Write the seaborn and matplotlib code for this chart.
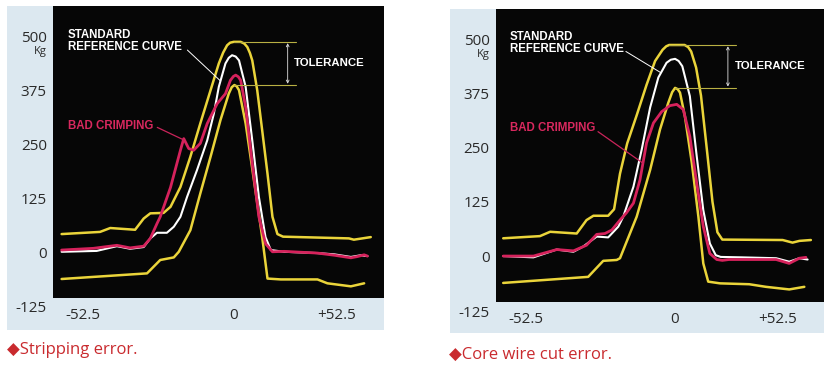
import matplotlib

matplotlib.use("Agg")
import matplotlib.pyplot as plt
import numpy as np
import pandas as pd
import seaborn as sns
from matplotlib.patches import Rectangle

# x = position across the trace window (0-100), y = crimp force in kg

# stripping error panel
STRIP_UPPER_X = [2.6, 14.2, 17.3, 24.8, 27.4, 29.4, 33.4, 35.5, 38.5, 41.5, 44.5, 47.6, 50.1, 51.4, 52.6,
                 53.5, 54.6, 56.7, 57.8, 58.7, 59.5, 60.2, 61.7, 63.2, 64.8, 66.3, 67.8, 69.5, 89.4,
                 90.9, 96.0]
STRIP_UPPER_Y = [42, 47, 56, 52, 78, 90, 91, 105, 151, 221, 298, 375, 437, 462, 479,
                 485, 487, 487, 483, 475, 461, 444, 375, 282, 182, 82, 42, 36, 32,
                 29, 35]
STRIP_LOWER_X = [2.6, 28.4, 32.4, 36.5, 38.0, 41.5, 44.5, 47.6, 50.6, 53.1, 54.0, 54.8, 55.5, 56.2,
                 58.2, 60.7, 63.2, 64.8, 68.8, 79.9, 82.9, 90.0, 94.0]
STRIP_LOWER_Y = [-62, -49, -18, -12, 1, 51, 136, 221, 306, 367, 382, 387, 384, 375,
                 298, 167, 35, -61, -63, -63, -72, -79, -72]
STRIP_REF_X = [2.6, 13.2, 19.3, 23.3, 27.4, 29.4, 31.4, 34.4, 36.5, 38.5, 40.5, 43.5, 46.6, 48.6, 50.1,
               52.1, 53.1, 54.1, 55.2, 56.2, 58.2, 60.2, 62.2, 64.2, 65.8, 69.8, 79.9, 85.0, 90.0,
               93.0, 95.0]
STRIP_REF_Y = [1, 3, 14, 8, 12, 32, 45, 45, 59, 82, 128, 190, 259, 321, 383,
               437, 450, 456, 453, 444, 383, 259, 128, 35, 5, 1, -2, -5, -11,
               -7, -9]
STRIP_BAD_X = [2.6, 12.2, 19.3, 23.3, 27.4, 29.4, 31.4, 32.4, 35.5, 38.5, 39.5, 41.0, 42.5, 44.5, 46.6,
               49.6, 52.1, 53.6, 54.5, 55.2, 56.0, 56.7, 58.2, 60.2, 62.2, 64.2, 66.3, 69.8, 79.9,
               85.0, 90.0, 92.0, 94.0, 95.0]
STRIP_BAD_Y = [5, 9, 16, 10, 14, 32, 66, 82, 150, 236, 263, 240, 236, 252, 298,
               344, 367, 398, 407, 410, 406, 398, 336, 205, 82, 20, 1, 2, -2,
               -7, -13, -10, -6, -9]

# core wire cut error panel
CUT_UPPER_X = [2.2, 13.4, 16.5, 24.6, 27.6, 29.7, 34.2, 36.0, 37.8, 40.0, 42.9, 45.9, 48.5, 50.8, 51.9,
               52.8, 57.5, 58.6, 59.5, 61.0, 62.5, 64.3, 66.0, 67.5, 69.0, 87.4, 90.4, 92.5, 96.0]
CUT_UPPER_Y = [41, 46, 56, 52, 83, 93, 93, 108, 190, 260, 325, 395, 450, 476, 484,
               487, 487, 482, 472, 435, 370, 245, 125, 55, 38, 37, 31, 35, 37]
CUT_LOWER_X = [2.2, 28.1, 32.7, 36.8, 37.8, 42.9, 47.0, 50.0, 52.5, 53.7, 54.6, 55.4, 56.1, 57.6,
               59.7, 61.7, 63.2, 64.7, 68.3, 77.2, 82.3, 89.4, 94.0]
CUT_LOWER_Y = [-62, -48, -11, -9, -5, 91, 199, 292, 353, 378, 388, 385, 377, 322,
               215, 91, -17, -59, -63, -65, -71, -77, -71]
CUT_REF_X = [2.2, 11.4, 18.5, 23.6, 26.6, 30.7, 34.2, 37.3, 38.8, 41.9, 44.4, 47.0, 49.5, 52.0, 53.3,
             54.6, 55.7, 56.8, 59.1, 61.2, 63.2, 65.2, 67.0, 68.5, 75.0, 85.4, 89.4, 92.5, 95.0]
CUT_REF_Y = [0, -3, 15, 10, 22, 45, 43, 68, 91, 160, 245, 343, 412, 446, 453,
             455, 450, 438, 369, 230, 106, 29, 2, -2, -3, -5, -13, -5, -8]
CUT_BAD_X = [2.2, 11.4, 18.5, 23.6, 27.6, 30.7, 33.2, 35.3, 37.8, 39.8, 41.9, 43.9, 45.9, 48.0, 50.5,
             53.0, 55.1, 57.1, 59.1, 61.2, 63.2, 65.2, 67.3, 69.0, 71.0, 85.4, 89.4, 92.5, 94.5]
CUT_BAD_Y = [0, 0, 15, 12, 25, 50, 52, 60, 83, 100, 122, 176, 261, 307, 333,
             347, 350, 338, 276, 168, 68, 6, -8, -10, -8, -8, -17, -5, -3]

X_TICK_LABELS = ["-52.5", "0", "+52.5"]
Y_TICKS = [500, 375, 250, 125, 0, -125]
CAPTIONS = ["\u25c6Stripping error.", "\u25c6Core wire cut error."]

CURVE_ORDER = ["upper", "lower", "reference", "bad"]
CURVE_COLORS = {"upper": "#ead43a", "lower": "#ead43a", "reference": "#ffffff", "bad": "#d6225c"}
CURVE_WIDTHS = {"upper": 1.8, "lower": 1.8, "reference": 1.5, "bad": 2.0}

BLUE = "#dce8f0"
W, H = 832, 366

sns.set_theme(style="dark")
plt.rcParams["font.family"] = ["Open Sans", "DejaVu Sans"]
LABEL_FONT = ["Liberation Sans", "DejaVu Sans"]


def curve_frame(upper_x, upper_y, lower_x, lower_y, ref_x, ref_y, bad_x, bad_y):
    parts = [
        ("upper", upper_x, upper_y),
        ("lower", lower_x, lower_y),
        ("reference", ref_x, ref_y),
        ("bad", bad_x, bad_y),
    ]
    return pd.concat(
        [pd.DataFrame({"x": xs, "kg": ys, "curve": name}) for name, xs, ys in parts],
        ignore_index=True,
    )


def px_rect(left, top, right, bottom):
    # pixel box -> figure fraction [x, y, w, h]
    return [left / W, 1 - bottom / H, (right - left) / W, (bottom - top) / H]


def draw_panel(fig, df, black_box, blue_box, caption, caption_xy, ann):
    fig.patches.append(Rectangle(blue_box[:2], blue_box[2], blue_box[3], transform=fig.transFigure,
                                 facecolor=BLUE, edgecolor="none", zorder=-10))
    ax = fig.add_axes(black_box)
    ax.set_facecolor("#060606")

    for name in CURVE_ORDER:
        sub = df[df["curve"] == name]
        sns.lineplot(data=sub, x="x", y="kg", sort=False, estimator=None, ax=ax,
                     color=CURVE_COLORS[name], linewidth=CURVE_WIDTHS[name],
                     solid_joinstyle="round", solid_capstyle="round")

    ax.set_xlim(0, 100)
    ax.set_ylim(-106, 570)
    ax.set_xlabel("")
    ax.set_ylabel("")
    ax.grid(False)
    for sp in ax.spines.values():
        sp.set_visible(False)

    ax.set_xticks([9.0, 54.4, 85.8])
    ax.set_xticklabels(X_TICK_LABELS)
    ax.set_yticks([v for v in Y_TICKS if v > -106])
    ax.tick_params(axis="both", length=0, labelsize=11, labelcolor="#2a2a2a")
    ax.tick_params(axis="x", pad=7.5)
    ax.tick_params(axis="y", pad=4.5)
    ytr = ax.get_yaxis_transform()
    for v in Y_TICKS:
        if v < -106:
            ax.annotate(str(v), xy=(0, v), xycoords=ytr, xytext=(-4.5, -2), textcoords="offset points",
                        ha="right", va="center", fontsize=11, color="#2a2a2a", annotation_clip=False)
    ax.annotate("Kg", xy=(0, 500), xycoords=ytr, xytext=(-4.5, -11), textcoords="offset points",
                ha="right", va="center", fontsize=8, color="#2a2a2a", annotation_clip=False)

    upper = df[df["curve"] == "upper"]
    lower = df[df["curve"] == "lower"]
    ref = df[df["curve"] == "reference"]
    bad = df[df["curve"] == "bad"]

    # tolerance band markers
    top_i = upper["kg"].idxmax()
    bot_i = lower["kg"].idxmax()
    top_y, bot_y = upper.loc[top_i, "kg"], lower.loc[bot_i, "kg"]
    ax.plot([upper.loc[top_i, "x"], ann["tol_end"]], [top_y, top_y], color="#b9b043", lw=0.8)
    ax.plot([lower.loc[bot_i, "x"], ann["tol_end"]], [bot_y, bot_y], color="#b9b043", lw=0.8)
    ax.annotate("", xy=(ann["tol_arrow"], top_y - 3), xytext=(ann["tol_arrow"], bot_y + 3),
                arrowprops=dict(arrowstyle="<->", color="#e0e0e0", lw=0.6, mutation_scale=5,
                                shrinkA=0, shrinkB=0))
    ax.text(ann["tol_text"], (top_y + bot_y) / 2, "TOLERANCE", color="white", fontsize=8.2,
            fontweight="bold", family=LABEL_FONT, ha="left", va="center")

    # standard reference curve label
    ax.text(ann["std_text"][0], ann["std_text"][1], "STANDARD\nREFERENCE CURVE", color="white",
            fontsize=8.3, fontweight="bold", family=LABEL_FONT, ha="left", va="center", linespacing=1.0)
    tx = ann["std_to"]
    ty = np.interp(tx, ref["x"], ref["kg"])
    ax.plot([ann["std_from"][0], tx], [ann["std_from"][1], ty], color="white", lw=0.7)

    # bad crimping label
    ax.text(ann["bad_text"][0], ann["bad_text"][1], "BAD CRIMPING", color="#d8285e",
            fontsize=8.3, fontweight="bold", family=LABEL_FONT, ha="left", va="center")
    bx = ann["bad_to"]
    by = np.interp(bx, bad["x"], bad["kg"])
    ax.plot([ann["bad_from"][0], bx], [ann["bad_from"][1], by], color="#c9245a", lw=0.9)

    fig.text(caption_xy[0], caption_xy[1], caption, color="#c92a2e", fontsize=12,
             ha="left", va="center")
    return ax


strip_df = curve_frame(STRIP_UPPER_X, STRIP_UPPER_Y, STRIP_LOWER_X, STRIP_LOWER_Y,
                       STRIP_REF_X, STRIP_REF_Y, STRIP_BAD_X, STRIP_BAD_Y)
cut_df = curve_frame(CUT_UPPER_X, CUT_UPPER_Y, CUT_LOWER_X, CUT_LOWER_Y,
                     CUT_REF_X, CUT_REF_Y, CUT_BAD_X, CUT_BAD_Y)

fig = plt.figure(figsize=(W / 100, H / 100), dpi=100)
fig.patch.set_facecolor("white")

draw_panel(
    fig, strip_df,
    px_rect(53, 6, 384, 298), px_rect(7, 6, 384, 330),
    CAPTIONS[0], (7 / W, 1 - 350 / H),
    dict(std_text=(4.5, 488), std_from=(40.6, 468), std_to=50.6,
         bad_text=(4.5, 292), bad_from=(31.5, 289), bad_to=39.4,
         tol_end=73.3, tol_arrow=70.9, tol_text=72.7),
)
draw_panel(
    fig, cut_df,
    px_rect(496, 9, 824, 302), px_rect(450, 9, 824, 333),
    CAPTIONS[1], (449 / W, 1 - 355 / H),
    dict(std_text=(4.3, 491), std_from=(39.6, 472), std_to=50.3,
         bad_text=(4.3, 296), bad_from=(31.1, 287), bad_to=44.8,
         tol_end=73.2, tol_arrow=70.7, tol_text=72.9),
)

fig.savefig("out.png", dpi=100, facecolor="white")
